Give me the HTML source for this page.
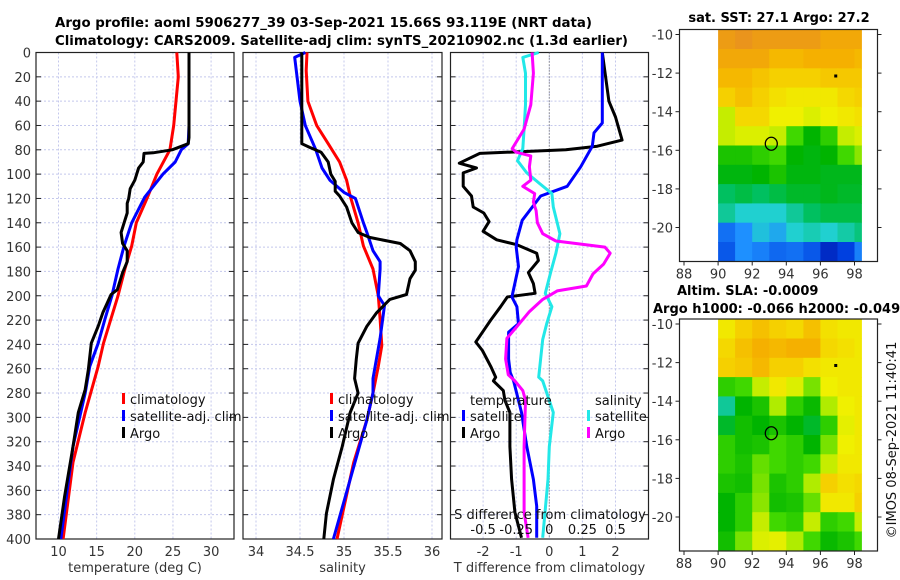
<!DOCTYPE html>
<html><head><meta charset="utf-8"><style>
html,body{margin:0;padding:0;background:#fff;}
svg{display:block;font-family:"DejaVu Sans","Liberation Sans",sans-serif;}
</style></head><body>
<svg id="chart" width="900" height="580" viewBox="0 0 900 580" xmlns="http://www.w3.org/2000/svg">
<g font-weight="bold" font-size="13" fill="#000">
<text x="55" y="27" textLength="537" lengthAdjust="spacingAndGlyphs">Argo profile: aoml 5906277_39 03-Sep-2021 15.66S 93.119E (NRT data)</text>
<text x="55" y="45" textLength="573" lengthAdjust="spacingAndGlyphs">Climatology: CARS2009. Satellite-adj clim: synTS_20210902.nc (1.3d earlier)</text>
</g>
<g id="layer"></g>
</svg>
<script>
// ---------- data ----------
const depthTicks=[0,20,40,60,80,100,120,140,160,180,200,220,240,260,280,300,320,340,360,380,400];
const tempTicks=[10,15,20,25,30];
const salTicks=[34,34.5,35,35.5,36];
const tdiffTicks=[-2,-1,0,1,2];
const sdiffTicks=[-0.5,-0.25,0,0.25,0.5];
const lonTicks=[88,90,92,94,96,98];
const latTicks=[-10,-12,-14,-16,-18,-20];

const tClimDepth=[0,20,60,80,100,120,140,159,178,200,239,258,296,337,400];
const tClimVal=[25.5,25.7,25.1,24.6,22.9,21.6,20.2,19.6,18.7,17.8,15.9,15.2,13.5,11.9,10.6];
const tSatDepth=[0,60,75,80,90,100,119,140,159,178,200,219,239,258,280,324,400];
const tSatVal=[27.1,27.1,27.0,26.1,25.3,23.7,21.3,19.6,18.6,17.8,17.0,16.1,15.2,14.1,13.5,11.9,10.3];
const tArgoDepth=[0,70,75,80,82.5,83,90,95,105,112,120,124,132,140,148,157,163,172,181,195,199,214,225,239,261,277,296,324,365,400];
const tArgoVal=[27.1,27.1,27.0,24.9,22.4,21.2,21.1,20.5,20.0,19.4,19.2,19.0,19.0,18.6,18.2,18.4,19.0,19.0,18.4,17.7,16.9,15.8,15.2,14.3,13.9,13.5,12.6,11.9,10.8,10.0];

const sClimDepth=[0,15,40,60,75,90,105,118,140,159,178,200,219,241,258,280,302,337,400];
const sClimVal=[34.58,34.57,34.59,34.69,34.82,34.95,35.03,35.07,35.16,35.22,35.33,35.39,35.41,35.43,35.39,35.33,35.26,35.11,34.92];
const sSatDepth=[0,4,40,60,75,80,95,105,115,120,140,148,163,172,178,200,208,219,235,268,280,302,351,400];
const sSatVal=[34.56,34.44,34.50,34.56,34.65,34.68,34.75,34.84,35.0,35.13,35.22,35.26,35.33,35.41,35.41,35.39,35.46,35.44,35.41,35.33,35.33,35.26,35.07,34.88];
const sArgoDepth=[0,75,78,82,90,100,106,114,118,127,140,148,152,157,163,172,179,186,199,203,214,225,239,252,268,280,296,324,351,379,400];
const sArgoVal=[34.52,34.52,34.61,34.74,34.82,34.85,34.9,34.9,34.95,35.03,35.09,35.16,35.29,35.64,35.75,35.81,35.81,35.75,35.71,35.52,35.37,35.26,35.16,35.14,35.12,35.16,35.07,34.98,34.88,34.8,34.77];

const dTArgoDepth=[0,20,40,53,72,77,80,83,91,95,99,110,118,127,132,139,147,154,158,165,171,176,181,190,198,201,209,220,228,238,245,258,267,270,278,286,296,324,351,378,399];
const dTArgoVal=[1.6,1.7,1.8,2.0,2.2,1.45,0.5,-2.1,-2.72,-2.2,-2.6,-2.6,-2.35,-2.3,-1.98,-1.82,-2.0,-1.59,-0.98,-0.38,-0.33,-0.48,-0.63,-0.48,-0.43,-1.27,-1.47,-1.77,-1.97,-2.22,-2.02,-1.77,-1.62,-1.69,-1.39,-1.34,-1.19,-1.19,-1.14,-1.04,-0.84];
const dTSatDepth=[0,20,58,66,77,94,110,118,138,154,160,176,201,209,223,230,252,263,270,296,324,351,373,399];
const dTSatVal=[1.6,1.6,1.6,1.35,1.3,0.95,0.54,-0.26,-0.82,-0.98,-1.0,-0.93,-1.13,-0.98,-0.93,-1.23,-1.23,-1.18,-1.08,-0.84,-0.68,-0.48,-0.38,-0.38];
const dSArgoDepth=[0,17,43,63,79,82,85,94,105,110,116,123,130,140,149,155,160,165,174,182,192,196,203,213,226,235,252,265,270,278,286,324,378,399];
const dSArgoVal=[-0.13,-0.12,-0.14,-0.19,-0.28,-0.25,-0.14,-0.15,-0.14,-0.2,-0.11,-0.12,-0.1,-0.09,-0.05,0.05,0.42,0.46,0.41,0.33,0.28,0.06,-0.05,-0.15,-0.25,-0.32,-0.33,-0.31,-0.26,-0.2,-0.18,-0.19,-0.19,-0.16];
const dSSatDepth=[0,4,17,43,63,79,89,99,108,116,127,149,165,181,198,209,223,236,267,270,296,324,351,399];
const dSSatVal=[-0.08,-0.2,-0.18,-0.18,-0.19,-0.2,-0.24,-0.17,-0.07,0.02,0.03,0.08,0.05,0.01,-0.03,0.02,-0.02,-0.05,-0.08,-0.05,0.03,0.0,-0.01,-0.05];

const sstGrid=[
[0.85,0.87,0.85,0.85,0.85,0.85,0.82,0.82,0.82],
[0.82,0.82,0.82,0.78,0.78,0.80,0.80,0.80,0.78],
[0.78,0.78,0.75,0.72,0.72,0.72,0.74,0.74,0.74],
[0.72,0.76,0.72,0.68,0.66,0.66,0.66,0.70,0.72],
[0.60,0.70,0.70,0.64,0.64,0.62,0.64,0.66,0.68],
[0.60,0.62,0.62,0.60,0.52,0.45,0.50,0.60,0.62],
[0.48,0.48,0.50,0.52,0.45,0.44,0.45,0.52,0.56],
[0.44,0.44,0.45,0.48,0.44,0.44,0.43,0.43,0.43],
[0.38,0.40,0.38,0.40,0.42,0.42,0.43,0.42,0.42],
[0.34,0.30,0.30,0.30,0.34,0.38,0.40,0.40,0.40],
[0.18,0.22,0.28,0.25,0.30,0.32,0.30,0.33,0.36],
[0.15,0.22,0.20,0.17,0.18,0.15,0.08,0.12,0.20]];
const slaGrid=[
[0.66,0.72,0.76,0.72,0.70,0.76,0.68,0.66,0.66],
[0.70,0.76,0.80,0.78,0.80,0.80,0.70,0.68,0.66],
[0.72,0.74,0.78,0.72,0.72,0.68,0.66,0.66,0.66],
[0.50,0.52,0.60,0.66,0.62,0.55,0.64,0.66,0.66],
[0.34,0.45,0.48,0.58,0.50,0.46,0.58,0.64,0.66],
[0.42,0.47,0.45,0.48,0.45,0.42,0.50,0.63,0.66],
[0.50,0.47,0.48,0.52,0.50,0.45,0.55,0.64,0.66],
[0.50,0.48,0.54,0.52,0.50,0.52,0.60,0.66,0.66],
[0.48,0.47,0.55,0.48,0.50,0.58,0.72,0.68,0.70],
[0.45,0.50,0.56,0.47,0.48,0.54,0.66,0.66,0.72],
[0.45,0.50,0.60,0.52,0.50,0.60,0.50,0.52,0.60],
[0.47,0.55,0.62,0.63,0.58,0.52,0.46,0.48,0.52]];
const argoLon=93.12, argoLat=-15.66;
const dotLon=96.9, dotLat=-12.15;

// ---------- drawing ----------
const NS='http://www.w3.org/2000/svg';
const layer=document.getElementById('layer');
function el(tag,attrs,parent){const e=document.createElementNS(NS,tag);for(const k in attrs)e.setAttribute(k,attrs[k]);(parent||layer).appendChild(e);return e;}
function txt(x,y,s,attrs,parent){const t=el('text',Object.assign({x:x,y:y,'font-size':13,fill:'#333'},attrs||{}),parent);t.textContent=s;return t;}

const Y0=52.5,Y1=539;
const yD=d=>Y0+d*(Y1-Y0)/400;
const xT=v=>58.5+(v-10)*7.63;
const xS=v=>256+(v-34)*88;
const xDT=v=>549.3+v*33.1;
const xDS=v=>549.3+v*132.4;

function panel(name,x0,x1,ticks,xf,tickFmt,xlabel){
  const g=el('g',{});
  
  
  ticks.forEach(t=>{el('line',{x1:xf(t),x2:xf(t),y1:Y0,y2:Y1,stroke:'#c4c8ec','stroke-width':1,'stroke-dasharray':'2,2'},g);});
  depthTicks.forEach(d=>{const y=yD(d);
    el('line',{x1:x0,x2:x1,y1:y,y2:y,stroke:'#c4c8ec','stroke-width':1,'stroke-dasharray':'2,2'},g);
    el('line',{x1:x0,x2:x0+5,y1:y,y2:y,stroke:'#222'},g);
    el('line',{x1:x1-5,x2:x1,y1:y,y2:y,stroke:'#222'},g);});
  el('rect',{x:x0,y:Y0,width:x1-x0,height:Y1-Y0,fill:'none',stroke:'#222','stroke-width':1.2},g);
  if(tickFmt){ticks.forEach(t=>{const lt=txt(xf(t),556,tickFmt(t),{'text-anchor':'middle'},g);});}
  const xl=txt((x0+x1)/2,572,xlabel,{'text-anchor':'middle'},g);
  
  
  return g;
}
function line(g,depths,vals,xf,color,name,w){
  const pts=depths.map((d,i)=>xf(vals[i]).toFixed(1)+','+yD(d).toFixed(1)).join(' ');
  const p=el('polyline',{points:pts,fill:'none',stroke:color,'stroke-width':w||3,'stroke-linejoin':'round'},g);
  
  
}
function legend(g,x,y,items){
  items.forEach((it,i)=>{
    el('rect',{x:x,y:y+i*17-7,width:3,height:11,fill:it[1]},g);
    const t=txt(x+8,y+i*17+4,it[0],{fill:'#111'},g);
    
    
  });
}

// depth axis labels
const ya=el('g',{});


depthTicks.forEach(d=>{txt(31,yD(d)+5,String(d),{'text-anchor':'end'},ya);});

// panel 1 temperature
const p1=panel('temperature-panel',36,234,tempTicks,xT,t=>String(t),'temperature (deg C)');
line(p1,tClimDepth,tClimVal,xT,'#ff0000','temp-climatology-line');
line(p1,tSatDepth,tSatVal,xT,'#0000ff','temp-satellite-line');
line(p1,tArgoDepth,tArgoVal,xT,'#000000','temp-argo-line');
legend(p1,122,400,[['climatology','#ff0000'],['satellite-adj. clim','#0000ff'],['Argo','#000']]);

// panel 2 salinity
const p2=panel('salinity-panel',243,442,salTicks,xS,t=>String(t),'salinity');
line(p2,sClimDepth,sClimVal,xS,'#ff0000','sal-climatology-line');
line(p2,sSatDepth,sSatVal,xS,'#0000ff','sal-satellite-line');
line(p2,sArgoDepth,sArgoVal,xS,'#000000','sal-argo-line');
legend(p2,330,400,[['climatology','#ff0000'],['satellite-adj. clim','#0000ff'],['Argo','#000']]);

// panel 3 differences
const p3=panel('difference-panel',450.5,648.5,tdiffTicks,xDT,t=>String(t),'T difference from climatology');
el('line',{x1:xDT(0),x2:xDT(0),y1:Y0,y2:Y1,stroke:'#555','stroke-width':1,'stroke-dasharray':'1,2'},p3);
line(p3,dTArgoDepth,dTArgoVal,xDT,'#000000','tdiff-argo-line');
line(p3,dTSatDepth,dTSatVal,xDT,'#0000ff','tdiff-satellite-line');
line(p3,dSSatDepth,dSSatVal,xDS,'#22e8e8','sdiff-satellite-line');
line(p3,dSArgoDepth,dSArgoVal,xDS,'#ff00ff','sdiff-argo-line');
txt(470,405,'temperature',{fill:'#111'},p3);
legend(p3,462,417,[['satellite','#0000ff'],['Argo','#000']]);
txt(595,405,'salinity',{fill:'#111'},p3);
legend(p3,587,417,[['satellite','#22e8e8'],['Argo','#ff00ff']]);
const sdt=txt(550,519,'S difference from climatology',{'text-anchor':'middle',fill:'#111'},p3);


sdiffTicks.forEach(t=>{txt(xDS(t),534,String(t),{'text-anchor':'middle',fill:'#111'},p3);});

// maps
function cmap(v){
  const st=[[0,[0,0,144]],[0.12,[0,64,224]],[0.22,[30,144,255]],[0.3,[32,208,208]],[0.38,[0,192,96]],[0.45,[0,180,0]],[0.52,[64,216,0]],[0.58,[176,236,0]],[0.64,[240,240,0]],[0.72,[245,208,0]],[0.8,[245,176,0]],[0.88,[232,144,32]],[1,[220,120,20]]];
  for(let i=1;i<st.length;i++){if(v<=st[i][0]){const a=st[i-1],b=st[i],f=(v-a[0])/(b[0]-a[0]);
    return 'rgb('+a[1].map((c,k)=>Math.round(c+(b[1][k]-c)*f)).join(',')+')';}}
  return 'rgb(220,120,20)';
}
function map(name,top,grid,title,titleX,titleAnchor){
  const g=el('g',{});
  
  
  const bx0=679.5,bx1=877.5,by0=top,by1=top+232;
  const xL=lon=>684+(lon-88)*17.05;
  const yL=lat=>by0+5+(-10-lat)*19.3;
  const lonEdge=[90,91,92,93,94,95,96,97,98,98.4];
  grid.forEach((row,r)=>{row.forEach((v,c)=>{
    const x=xL(lonEdge[c]),x2=Math.min(xL(lonEdge[c+1]),bx1);
    const y=Math.max(yL(-9.75-r),by0),y2=Math.min(yL(-10.75-r),by1);
    const cell=el('rect',{x:x.toFixed(1),y:y.toFixed(1),width:(x2-x+0.6).toFixed(1),height:(y2-y+0.6).toFixed(1),fill:cmap(v)},g);
    
    
  });});
  el('rect',{x:bx0,y:by0,width:bx1-bx0,height:by1-by0,fill:'none',stroke:'#222','stroke-width':1.2},g);
  lonTicks.forEach(l=>{el('line',{x1:xL(l),x2:xL(l),y1:by1,y2:by1+4,stroke:'#222'},g);
    txt(xL(l),by1+17,String(l),{'text-anchor':'middle'},g);});
  latTicks.forEach(l=>{el('line',{x1:bx0-4,x2:bx0,y1:yL(l),y2:yL(l),stroke:'#222'},g);
    el('line',{x1:bx1,x2:bx1+4,y1:yL(l),y2:yL(l),stroke:'#222'},g);
    txt(673,yL(l)+5,String(l),{'text-anchor':'end'},g);});
  const c=el('ellipse',{cx:xL(argoLon),cy:yL(argoLat),rx:6,ry:6.5,fill:'none',stroke:'#000','stroke-width':1.3},g);
  
  
  el('rect',{x:xL(dotLon)-1.5,y:yL(dotLat)-1.5,width:3,height:3,fill:'#000'},g);
  title.forEach((t,i)=>{const tt=txt(t[1],t[2],t[0],{'font-weight':'bold',fill:'#000','text-anchor':t[3]},g);
    
    });
}
map('sst-map',29.5,sstGrid,[['sat. SST: 27.1 Argo: 27.2',779,22,'middle']]);
map('sla-map',319,slaGrid,[['Altim. SLA: -0.0009',677,295,'start'],['Argo h1000: -0.066 h2000: -0.049',653,313,'start']]);
const cp=txt(896,440,'©IMOS 08-Sep-2021 11:40:41',{'text-anchor':'middle',fill:'#111',transform:'rotate(-90 896 440)'});


</script>
</body></html>
